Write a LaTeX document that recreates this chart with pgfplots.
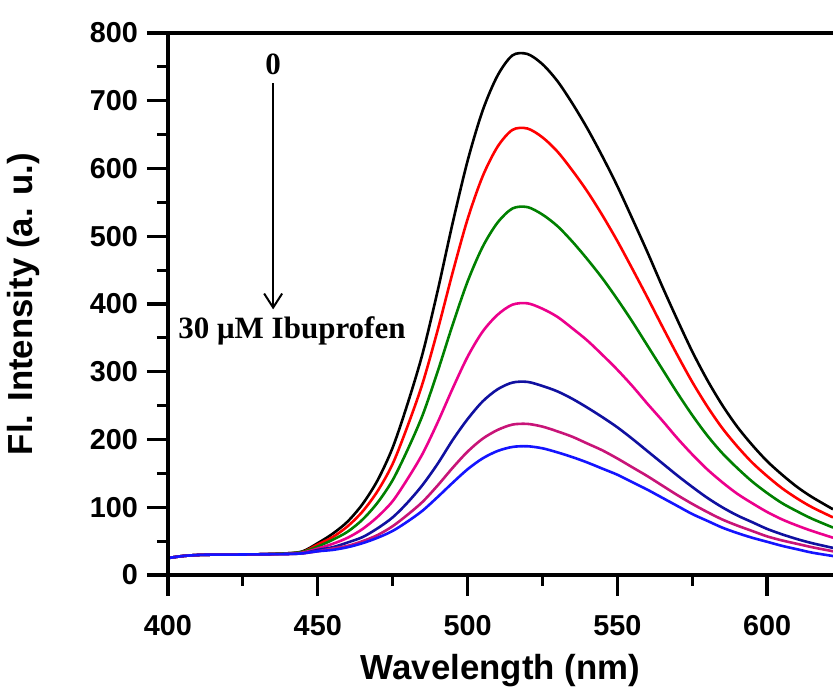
\documentclass[border=0pt]{standalone}
\usepackage{fontspec}
\setmainfont{Liberation Sans}
\newfontfamily\timesfont{Liberation Serif}
\usepackage{pgfplots}
\pgfplotsset{compat=1.18}
\usepackage{pgfplotstable}
\usetikzlibrary{arrows.meta}

\definecolor{cgreen}{RGB}{0,128,0}
\definecolor{cnavy}{RGB}{16,16,160}
\definecolor{cwine}{RGB}{200,20,120}
\definecolor{cblue}{RGB}{20,20,255}

% fluorescence spectra, 0 -> 30 uM ibuprofen
\pgfplotstableread{
wl  k   r   g   m   n   c   b
400 25  25  25  25  25  25  25
405 28  28  28  28  28  28  28
410 29.5 29.5 29.5 29.5 29.5 29.5 29.5
415 30  30  30  30  30  30  30
420 30  30  30  30  30  30  30
430 30.5 30.5 30.5 30.5 30.5 30.5 30.5
440 32  32  32  31  31  31  31
445 35  34  34  33  32  32  32
450 47  45  42  39  37  35  35
455 61  56  52  46  41  39  37
460 79  72  64  55  48  43  41
465 105 94  82  68  56  50  47
470 140 124 107 86  69  59  55
475 188 164 140 109 85  72  65
480 253 220 185 142 107 89  79
485 327 283 236 179 133 108 95
490 419 361 300 225 164 132 115
495 519 446 369 275 199 158 136
500 611 525 433 322 230 182 156
505 685 588 484 359 256 201 172
510 737 632 520 384 274 214 183
515 767 657 541 399 284 222 189
520 769 659 543 401 285 223 190
525 754 646 532 393 279 219 187
530 729 625 515 381 271 212 181
535 696 597 492 364 260 204 174
540 659 566 466 346 247 194 166
545 618 531 438 325 233 184 157
550 574 493 407 303 218 172 148
555 526 452 374 279 201 159 137
560 477 410 339 253 183 146 126
565 426 367 304 228 165 132 114
570 377 325 269 202 147 118 102
575 330 285 236 178 130 105 90
580 288 249 206 156 114 93  80
585 251 217 180 137 100 82  70
590 219 190 158 120 88  73  62
595 192 166 138 106 78  65  55
600 168 146 121 93  68  57  49
605 148 128 106 82  60  51  43
610 130 113 94  73  53  46  38
615 115 100 83  65  47  41  33
622 97  85  70  55  40  35  28
}\spectra

\begin{document}
\begin{tikzpicture}
\begin{axis}[
  name=ax,
  scale only axis,
  width=332.5pt, height=271pt,
  xmin=400, xmax=622, ymin=0, ymax=800,
  axis x line*=bottom, axis y line*=left,
  axis line style={draw=none},
  xtick={400,450,...,600}, ytick={0,100,...,800},
  minor x tick num=1, minor y tick num=1,
  tick align=outside,
  major tick length=10.5pt, minor tick length=5.5pt,
  every major tick/.append style={line width=1.6pt, black},
  every minor tick/.append style={line width=1.6pt, black},
  tick label style={font=\fontsize{14.4}{16}\selectfont\bfseries},
  every x tick label/.append style={yshift=-6pt},
  every y tick label/.append style={xshift=-1pt},
  /pgf/number format/assume math mode=true,
  xlabel={Wavelength (nm)},
  ylabel={Fl. Intensity (a. u.)},
  xlabel shift=2.5pt, ylabel shift=18pt,
  label style={font=\fontsize{17.4}{20}\selectfont\bfseries},
  every axis plot/.append style={line width=1.3pt, smooth},
]
\addplot[black]   table[x=wl, y=k] {\spectra};
\addplot[red]     table[x=wl, y=r] {\spectra};
\addplot[cgreen]  table[x=wl, y=g] {\spectra};
\addplot[magenta] table[x=wl, y=m] {\spectra};
\addplot[cnavy]   table[x=wl, y=n] {\spectra};
\addplot[cwine]   table[x=wl, y=c] {\spectra};
\addplot[cblue]   table[x=wl, y=b] {\spectra};

\node[font=\timesfont\fontsize{15.5}{18}\selectfont\bfseries] at (axis cs:435.1,754) {0};
\draw[line width=1pt, -{Straight Barb[length=7pt, width=9pt]}] (axis cs:435.1,726) -- (axis cs:435.1,392);
\node[font=\timesfont\fontsize{15.5}{18}\selectfont\bfseries] at (axis cs:441.4,361) {30 μM Ibuprofen};
\end{axis}
% frame: left, bottom and top (right side is cut off in the original)
\draw[line width=2pt] ([xshift=1pt]ax.north east) -- (ax.north west) -- (ax.south west) -- ([xshift=1pt]ax.south east);
\pgfresetboundingbox
\path[use as bounding box] ([shift={(-84pt,-56.5pt)}]ax.south west) rectangle ([shift={(0pt,16.5pt)}]ax.north east);
\end{tikzpicture}
\end{document}
